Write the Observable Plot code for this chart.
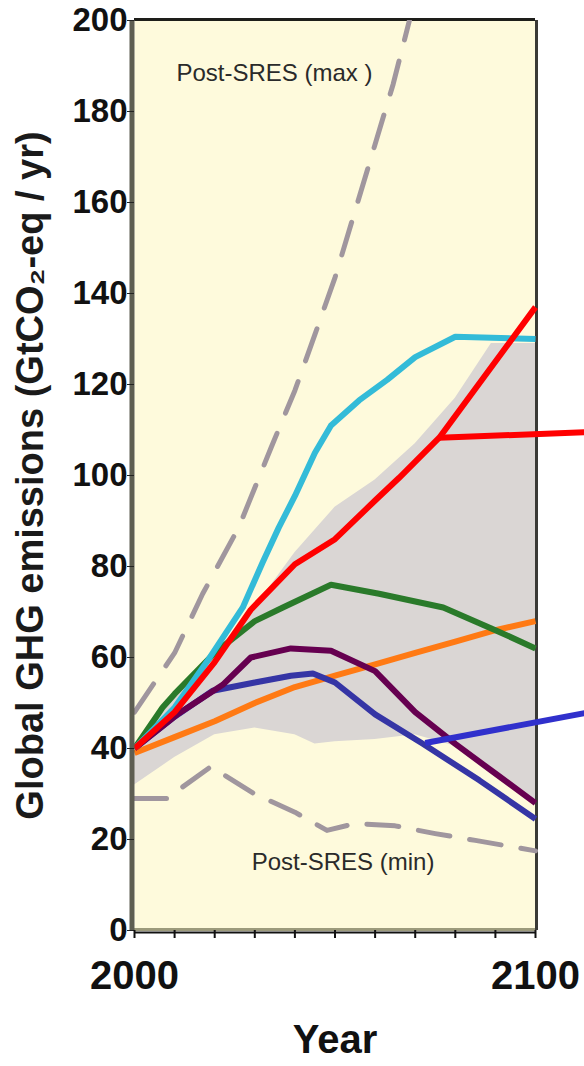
<!DOCTYPE html>
<html><head><meta charset="utf-8">
<script src="https://cdn.jsdelivr.net/npm/d3@7"></script>
<script src="https://cdn.jsdelivr.net/npm/@observablehq/plot@0.6"></script>
<style>body{margin:0;background:#fff} svg{display:block}</style>
</head><body><div id="chart"></div>
<script>
// ---- data ----
const yTicks = [0,20,40,60,80,100,120,140,160,180,200];
const xMinorTicks = [2000,2010,2020,2030,2040,2050,2060,2070,2080,2090,2100];
const xLabels = [2000,2100];
const yLabel = "Global GHG emissions (GtCO\u2082-eq / yr)";
const xLabel = "Year";

const bandYears = [2000,2010,2020,2030,2040,2045,2050,2060,2070,2080,2089,2100];
const bandHigh  = [40,51,61,71,83,88,93,99,107,117,129,129];
const bandLow   = [32,38,43,44.5,43,41,41.5,42,43,40.5,34.5,28];

const cyanYears = [2000,2010,2018,2027,2032,2036,2040,2045,2049,2056,2063,2070,2080,2100];
const cyanVals  = [40,49,59,71,81,88.6,95.5,105,111,116.5,121,126,130.5,130];
const redYears  = [2000,2010,2020,2029,2040,2050,2060,2066,2076,2100];
const redVals   = [40,48,59,70.5,80.5,86,94.5,99.5,108.3,137];
const greenYears= [2000,2007,2010,2020,2030,2037,2049,2061,2077,2090,2100];
const greenVals = [40,49,52,61,68,71,76,74,71,66,62];
const purpleYears=[2000,2011,2022,2029,2039,2049,2060,2070,2080,2090,2100];
const purpleVals= [40,47.7,54,60,62,61.5,57,48,41,34.5,28];
const blueYears = [2000,2010,2019.5,2030,2039,2044.5,2050,2060,2072,2086,2100];
const blueVals  = [40,47,52.7,54.5,56,56.5,54.5,47.5,41,33,24.5];
const orangeYears=[2000,2010,2020,2030,2040,2050,2060,2070,2080,2090,2100];
const orangeVals= [39,42.5,46,50,53.5,56,58.5,61,63.5,66,68];

const maxYears = [2000,2010,2017,2026,2034,2040,2045,2050,2057,2064.5,2070];
const maxVals  = [48,61,74,88.6,106,118.7,131,143.5,164,186,205];
const minYears = [2000,2008,2019,2030,2040,2048,2055,2065,2075,2085,2100];
const minVals  = [29,29,36,30,26,22,23.5,23,21.3,19.8,17.5];

// leader lines toward labels outside the picture
const redLeaderYears = [2076,2112.5];
const redLeaderVals  = [108.3,109.5];
const blueLeaderYears= [2072.5,2112.5];
const blueLeaderVals = [41.2,47.8];

const notes = [
  {text:"Post-SRES (max )", x:2034.9, y:188.4},
  {text:"Post-SRES (min)",  x:2052,   y:14.9}
];

// ---- build ----
const pts = (ys, vs) => ys.map((x,i)=>({x, y:vs[i]}));
const band = bandYears.map((x,i)=>({x, lo:bandLow[i], hi:bandHigh[i]}));
const lineOpts = (stroke) => ({x:"x", y:"y", stroke, strokeWidth:6, strokeLinejoin:"round", strokeLinecap:"butt"});
const font = "'Liberation Sans', Arial, Helvetica, sans-serif";

const chart = Plot.plot({
  width:584, height:1066,
  marginLeft:134, marginRight:49, marginTop:20, marginBottom:136,
  x:{domain:[2000,2100], axis:null},
  y:{domain:[0,200], axis:null},
  style:{fontFamily:font, background:"#fff", color:"#111"},
  marks:[
    Plot.frame({fill:"#fefadc", stroke:null}),
    Plot.areaY(band, {x:"x", y1:"lo", y2:"hi", fill:"#dad6d4"}),
    Plot.ruleY([200], {stroke:"#1e1e1a", strokeWidth:3, dy:-1}),
    Plot.ruleX([2100], {stroke:"#3a3a36", strokeWidth:3, dx:1}),
    Plot.ruleY([0], {stroke:"#9c9a7c", strokeWidth:3, dy:-1}),
    Plot.ruleY([0], {stroke:"#111", strokeWidth:2, dy:2}),
    Plot.line(pts(maxYears,maxVals), {x:"x", y:"y", stroke:"#a0969e", strokeWidth:5, strokeDasharray:"34,22", clip:true}),
    Plot.line(pts(minYears,minVals), {x:"x", y:"y", stroke:"#a0969e", strokeWidth:5, strokeDasharray:"32,20"}),
    Plot.line(pts(orangeYears,orangeVals), lineOpts("#ff7a14")),
    Plot.line(pts(blueYears,blueVals), lineOpts("#3535a5")),
    Plot.line(pts(purpleYears,purpleVals), lineOpts("#660050")),
    Plot.line(pts(greenYears,greenVals), lineOpts("#2a7a2a")),
    Plot.line(pts(cyanYears,cyanVals), lineOpts("#33bbd8")),
    Plot.line(pts(redYears,redVals), lineOpts("#ff0000")),
    Plot.line(pts(redLeaderYears,redLeaderVals), lineOpts("#ff0000")),
    Plot.line(pts(blueLeaderYears,blueLeaderVals), lineOpts("#3030cc")),
    Plot.ruleX([2000], {stroke:"#5e5e52", strokeWidth:5, dx:-2.5}),
    Plot.axisY(yTicks, {anchor:"left", label:null, tickSize:7, tickPadding:0, fontSize:33, fontWeight:"bold", stroke:"#222"}),
    Plot.axisX(xMinorTicks, {anchor:"bottom", label:null, tickSize:8, tickFormat:()=>"", stroke:"#111", strokeWidth:2}),
    Plot.axisX(xLabels, {anchor:"bottom", label:null, tickSize:0, tickPadding:30, fontSize:40, fontWeight:"bold", tickFormat:d=>String(d)}),
    Plot.text([xLabel], {frameAnchor:"bottom", textAnchor:"middle", dy:122, text:d=>d, fontSize:40, fontWeight:"bold", fill:"#111"}),
    Plot.text([yLabel], {frameAnchor:"left", textAnchor:"middle", dx:-104, rotate:-90, text:d=>d, fontSize:38, fontWeight:"bold", fill:"#1a1a1a"}),
    Plot.text(notes, {x:"x", y:"y", text:"text", fontSize:24, fill:"#2a2a2a"})
  ]
});
document.getElementById("chart").append(chart);
</script>
</body></html>
